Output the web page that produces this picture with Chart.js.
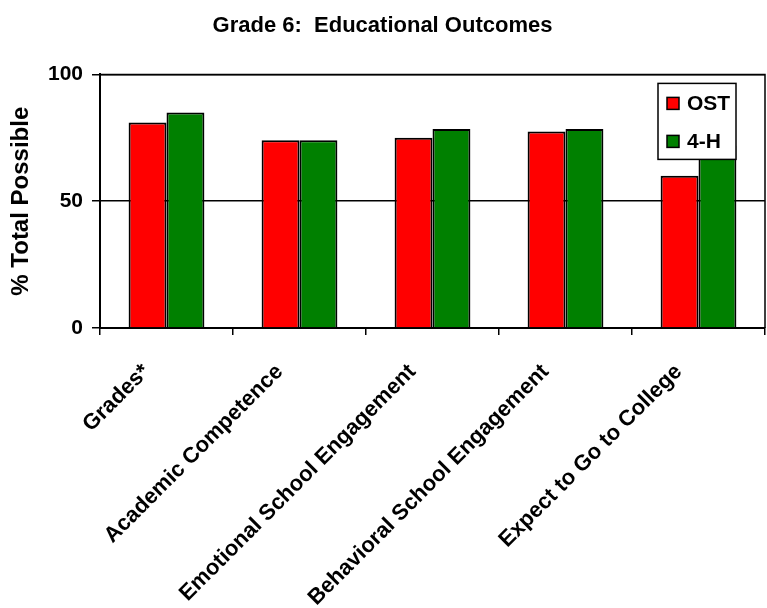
<!DOCTYPE html>
<html>
<head>
<meta charset="utf-8">
<script src="https://cdn.jsdelivr.net/npm/chart.js@4.4.1/dist/chart.umd.min.js"></script>
<style>
  html, body { margin: 0; padding: 0; background: #fff; }
  #wrap { width: 767px; height: 608px; }
</style>
</head>
<body>
<div id="wrap"><canvas id="outcomesChart"></canvas></div>
<script>
const categories = ['Grades*', 'Academic Competence', 'Emotional School Engagement', 'Behavioral School Engagement', 'Expect to Go to College'];
const ostValues = [81, 74, 75, 77.5, 60];
const fourHValues = [85, 74, 78.5, 78.5, 72];
const yTicks = [0, 50, 100];

const FONT = "'Liberation Sans', Arial, sans-serif";

// outline around the whole plot area (top and right edges)
const plotFrame = {
    id: 'plotFrame',
    afterDraw(chart) {
        const { ctx, chartArea: a } = chart;
        ctx.save();
        ctx.strokeStyle = '#000';
        ctx.lineWidth = 1.5;
        ctx.beginPath();
        ctx.moveTo(a.left, a.top);
        ctx.lineTo(a.right, a.top);
        ctx.lineTo(a.right, a.bottom);
        ctx.stroke();
        ctx.restore();
    }
};

// boxed legend sitting inside the plot, over the last bar
const boxLegend = {
    id: 'boxLegend',
    afterDraw(chart) {
        const { ctx, chartArea: a } = chart;
        const x = a.right - 107, y = a.top + 9, w = 78, h = 76;
        ctx.save();
        ctx.fillStyle = '#fff';
        ctx.fillRect(x, y, w, h);
        ctx.strokeStyle = '#000';
        ctx.lineWidth = 1.5;
        ctx.strokeRect(x, y, w, h);
        ctx.font = 'bold 21px ' + FONT;
        ctx.textBaseline = 'middle';
        chart.data.datasets.forEach((ds, i) => {
            const cy = y + 20 + i * 38;
            ctx.fillStyle = ds.backgroundColor;
            ctx.fillRect(x + 9, cy - 6, 12, 12);
            ctx.lineWidth = 1.5;
            ctx.strokeRect(x + 9, cy - 6, 12, 12);
            ctx.fillStyle = '#000';
            ctx.fillText(ds.label, x + 29, cy + 1);
        });
        ctx.restore();
    }
};

new Chart(document.getElementById('outcomesChart'), {
    type: 'bar',
    data: {
        labels: categories,
        datasets: [{
            label: 'OST',
            data: ostValues,
            backgroundColor: '#ff0000',
            borderColor: '#000',
            borderWidth: 2,
            borderSkipped: 'bottom'
        }, {
            label: '4-H',
            data: fourHValues,
            backgroundColor: '#008000',
            borderColor: '#000',
            borderWidth: 2,
            borderSkipped: 'bottom'
        }]
    },
    options: {
        responsive: true,
        maintainAspectRatio: false,
        animation: false,
        layout: { padding: { left: 0, right: 2, top: 0, bottom: 0 } },
        datasets: { bar: { categoryPercentage: 0.57, barPercentage: 1 } },
        plugins: {
            legend: { display: false },
            tooltip: { enabled: false },
            title: {
                display: true,
                text: 'Grade 6:  Educational Outcomes',
                color: '#000',
                font: { family: FONT, size: 22, weight: 'bold' },
                padding: { top: 13, bottom: 35 }
            }
        },
        scales: {
            x: {
                afterFit(s) { s.height = 280; },
                grid: { offset: true, drawOnChartArea: false, drawTicks: true, tickLength: 7, color: '#000', lineWidth: 1.5 },
                border: { color: '#000', width: 2 },
                ticks: {
                    color: '#000',
                    font: { family: FONT, size: 22, weight: 'bold' },
                    minRotation: 45,
                    maxRotation: 45,
                    autoSkip: false,
                    padding: 24,
                    labelOffset: -20
                }
            },
            y: {
                min: 0,
                max: 100,
                afterFit(s) { s.width = 100; },
                afterBuildTicks(s) { s.ticks = yTicks.map(v => ({ value: v })); },
                grid: { color: '#000', lineWidth: 1.5, tickLength: 8 },
                border: { color: '#000', width: 2 },
                ticks: {
                    color: '#000',
                    font: { family: FONT, size: 21, weight: 'bold' },
                    padding: 9
                },
                title: {
                    display: true,
                    text: '% Total Possible',
                    color: '#000',
                    font: { family: FONT, size: 24, weight: 'bold' },
                    padding: { top: 7, bottom: 0 }
                }
            }
        }
    },
    plugins: [plotFrame, boxLegend]
});
</script>
</body>
</html>
